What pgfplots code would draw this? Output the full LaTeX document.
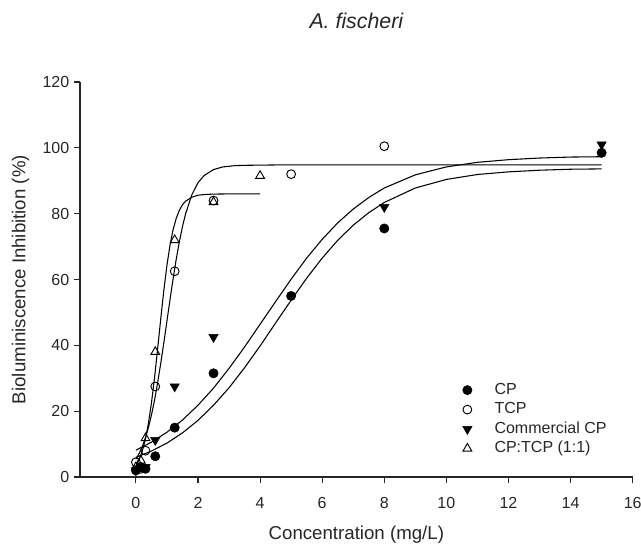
\documentclass[border=0pt]{standalone}
\usepackage{fontspec}
\setmainfont{Liberation Sans}
\usepackage{pgfplots}
\pgfplotsset{compat=1.18}
\begin{document}
\begin{tikzpicture}
\begin{axis}[
    scale only axis, width=414.5pt, height=296.25pt,
    xmin=-1.8, xmax=16, ymin=0, ymax=120,
    axis lines*=left,
    axis line style={line width=1pt, black!85},
    xtick={0,2,...,16}, ytick={0,20,...,120},
    tick align=outside, major tick length=4.5pt,
    tick style={line width=0.8pt, black!85},
    /pgf/number format/assume math mode=true,
    tick label style={font=\fontsize{12}{14}\selectfont, text=black!85},
    xticklabel style={yshift=-7pt},
    label style={font=\fontsize{14}{16}\selectfont, text=black!85},
    xlabel={Concentration (mg/L)},
    ylabel={Bioluminiscence Inhibition (\%)},
    xlabel style={at={(axis description cs:0.5,0)}, anchor=base, yshift=-46.5pt},
    ylabel style={at={(axis description cs:0,0.5)}, anchor=base, yshift=41pt},
    title={A. fischeri},
    title style={font=\fontsize{16}{19}\selectfont\itshape, text=black!85, at={(0.5,1)}, anchor=base, yshift=34pt},
    legend image code/.code={\path (0pt,0pt) (20pt,0pt); \draw[#1] plot coordinates {(0pt,0pt)};},
    legend style={draw=none, fill=none, inner sep=0pt, at={(0.692,0.240)}, anchor=north west,
        font=\fontsize{12}{14}\selectfont, text=black!85,
        nodes={inner sep=0pt, text height=9pt, text depth=2.5pt}, row sep=3.1pt},
    legend cell align=left,
    clip=false,
]
% fitted curves
\addplot[forget plot, black, line width=0.8pt, line join=round] coordinates {
 (0,8.15) (0.5,10.57) (1,13.6) (1.5,17.3) (2,21.8) (2.5,27.0) (3,33.0) (3.5,39.5)
 (4,46.4) (4.5,53.3) (5,60.1) (5.5,66.5) (6,72.2) (6.5,77.2) (7,81.4) (7.5,84.9)
 (8,87.8) (9,91.8) (10,94.2) (11,95.6) (12,96.4) (13,96.9) (14,97.2) (15,97.3)};
\addplot[forget plot, black, line width=0.8pt, line join=round] coordinates {
 (0,5.97) (0.5,7.88) (1,10.3) (1.5,13.4) (2,17.2) (2.5,21.8) (3,27.1) (3.5,33.2)
 (4,39.8) (4.5,46.8) (5,53.7) (5.5,60.4) (6,66.5) (6.5,71.9) (7,76.5) (7.5,80.3)
 (8,83.4) (9,87.8) (10,90.4) (11,91.9) (12,92.7) (13,93.2) (14,93.5) (15,93.6)};
\addplot[forget plot, black, line width=0.8pt, line join=round] coordinates {
 (0,3.45) (0.1,5.18) (0.2,7.68) (0.3,11.2) (0.4,16.1) (0.5,22.4) (0.6,30.1) (0.7,38.9)
 (0.8,48.0) (0.9,56.7) (1.0,64.3) (1.1,70.5) (1.2,75.2) (1.3,78.6) (1.4,81.0) (1.5,82.7)
 (1.6,83.8) (1.8,85.0) (2.0,85.6) (2.2,85.8) (2.5,85.95) (3,86.0) (4,86.0)};
\addplot[forget plot, black, line width=0.8pt, line join=round] coordinates {
 (0,5.44) (0.1,7.06) (0.2,9.12) (0.3,11.7) (0.4,14.9) (0.5,18.75) (0.6,23.3) (0.7,28.6)
 (0.8,34.5) (0.9,40.8) (1.0,47.4) (1.1,54.0) (1.2,60.3) (1.3,66.2) (1.4,71.5) (1.5,76.05)
 (1.6,79.9) (1.8,85.7) (2.0,89.4) (2.2,91.6) (2.5,93.4) (2.8,94.2) (3.2,94.6) (3.6,94.7)
 (4.5,94.8) (15,94.8)};
% data
\addplot[only marks, mark=*, mark size=3.5pt, black] coordinates {
 (0,2) (0.16,3) (0.31,2.5) (0.625,6.3) (1.25,15) (2.5,31.5) (5,55) (8,75.5) (15,98.5)};
\addlegendentry{CP}
\addplot[only marks, mark=o, mark size=3.3pt, black, line width=0.7pt, fill=white] coordinates {
 (0,4.5) (0.16,2.5) (0.31,8) (0.625,27.5) (1.25,62.5) (2.5,84) (5,92) (8,100.5)};
\addlegendentry{TCP}
\addplot[only marks, mark=triangle*, mark size=4pt, black, mark options={rotate=180}] coordinates {
 (0,2) (0.31,3) (0.625,11.2) (1.25,27.5) (2.5,42.5) (8,82) (15,101)};
\addlegendentry{Commercial CP}
\addplot[only marks, mark=triangle, mark size=3.8pt, black, line width=0.7pt] coordinates {
 (0,3) (0.16,5) (0.31,11.8) (0.625,38) (1.25,72) (2.5,83.5) (4,91.5)};
\addlegendentry{CP:TCP (1:1)}
\end{axis}
\pgfresetboundingbox
\path[use as bounding box] (-60pt,-49.5pt) rectangle (420.75pt,357.75pt);
\end{tikzpicture}
\end{document}
